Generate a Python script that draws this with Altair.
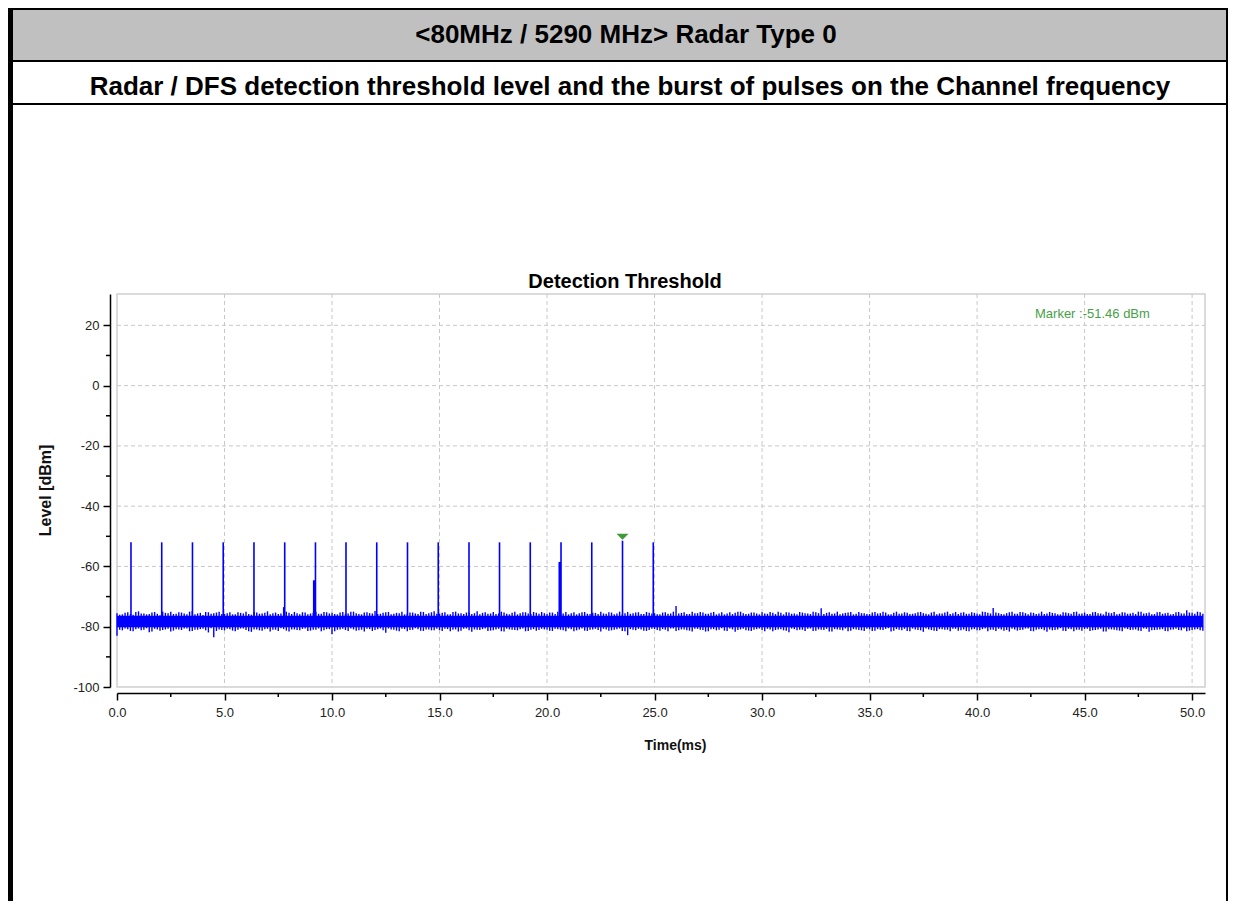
import altair as alt
import numpy as np
import pandas as pd

# ---------------- data ----------------
HEADER_1 = "<80MHz / 5290 MHz> Radar Type 0"
HEADER_2 = "Radar / DFS detection threshold level and the burst of pulses on the Channel frequency"
CHART_TITLE = "Detection Threshold"
MARKER_LABEL = "Marker :-51.46 dBm"
X_TITLE = "Time(ms)"
Y_TITLE = "Level [dBm]"

X_TICKS = [0.0, 5.0, 10.0, 15.0, 20.0, 25.0, 30.0, 35.0, 40.0, 45.0, 50.0]
X_MINOR = [2.5, 7.5, 12.5, 17.5, 22.5, 27.5, 32.5, 37.5, 42.5, 47.5]
Y_TICKS = [-100, -80, -60, -40, -20, 0, 20]
Y_MINOR = [-90, -70, -50, -30, -10, 10]
X_GRID = [5.0, 10.0, 15.0, 20.0, 25.0, 30.0, 35.0, 40.0, 45.0, 50.0]
Y_GRID = [-80, -60, -40, -20, 0, 20]
X_DOMAIN = [0.0, 50.6]
Y_DOMAIN = [-100.0, 30.4]

# radar pulses (time in ms, peak level in dBm)
PULSE_TIMES = [0.65, 2.08, 3.51, 4.94, 6.37, 7.80, 9.23, 10.65, 12.08,
               13.51, 14.94, 16.37, 17.79, 19.22, 20.65, 22.08, 23.51, 24.94]
PULSE_PEAKS = [-52.0, -52.0, -52.0, -52.0, -52.0, -52.0, -52.0, -52.0, -52.0,
               -52.0, -52.0, -52.0, -52.0, -52.0, -52.0, -52.0, -51.46, -52.0]
PULSE_BASE = -78.0
# partial (lower) pulses seen beside two of the pulses
EXTRA_TIMES = [9.17, 20.59]
EXTRA_PEAKS = [-64.6, -58.5]

MARKER_TIME = 23.51
MARKER_LEVEL = -51.46

# noise floor: solid core band plus upper / lower excursions every 0.25 ms
NOISE_STEP = 0.25
NOISE_CORE = (-80.2, -76.4)
NOISE_HI = [
    -75.5, -75.9, -75.2, -76.0, -74.9, -75.6, -75.8, -75.1, -76.2, -75.4,
    -75.0, -75.7, -75.3, -75.9, -74.8, -75.6, -76.1, -75.2, -75.5, -75.0,
    -75.7, -75.2, -75.9, -75.4, -75.0, -76.0, -75.3, -75.6, -74.9, -75.5,
    -75.8, -73.5, -75.4, -75.1, -75.9, -75.3, -75.6, -75.0, -75.7, -75.2,
    -75.4, -75.9, -75.1, -75.6, -75.0, -75.8, -75.3, -75.5, -74.8, -75.7,
    -75.2, -75.9, -75.4, -75.0, -75.6, -75.3, -75.8, -75.1, -75.5, -74.9,
    -75.6, -75.2, -75.9, -75.0, -75.5, -75.3, -75.8, -74.9, -75.4, -75.7,
    -75.1, -75.6, -75.3, -75.9, -75.0, -75.5, -75.2, -75.8, -75.4, -75.1,
    -75.7, -75.3, -75.0, -75.6, -75.9, -75.2, -75.5, -75.1, -75.8, -75.4,
    -75.0, -75.7, -75.3, -75.6, -75.9, -75.1, -75.5, -75.2, -75.8, -75.4,
    -75.5, -75.9, -75.2, -75.6, -73.1, -75.4, -75.8, -75.0, -75.5, -75.3,
    -75.7, -75.1, -75.6, -75.9, -75.2, -75.4, -75.0, -75.8, -75.3, -75.6,
    -75.2, -75.7, -75.4, -75.0, -75.9, -75.3, -75.6, -75.1, -75.5, -75.8,
    -75.2, -73.9, -75.4, -75.7, -75.0, -75.6, -75.3, -75.9, -75.1, -75.5,
    -75.8, -75.1, -75.5, -75.3, -75.9, -75.0, -75.6, -75.4, -75.7, -75.2,
    -75.5, -75.9, -75.0, -75.6, -75.3, -75.8, -75.1, -75.4, -75.7, -75.2,
    -75.6, -75.0, -75.4, -73.8, -75.5, -75.9, -75.2, -75.7, -75.1, -75.5,
    -75.3, -75.8, -75.0, -75.6, -75.4, -75.9, -75.2, -75.5, -75.1, -75.7,
    -75.3, -75.8, -75.1, -75.6, -75.0, -75.5, -75.9, -75.2, -75.7, -75.4,
    -75.0, -75.6, -75.3, -75.8, -75.1, -75.5, -75.9, -75.2, -75.6, -74.5,
    -75.4, -75.0, -75.7,
]
NOISE_LO = [
    -83.0, -81.2, -80.8, -81.5, -80.6, -81.0, -81.8, -80.7, -81.3, -80.9,
    -81.6, -80.8, -81.1, -80.6, -81.4, -81.0, -80.7, -81.9, -83.5, -80.9,
    -81.2, -80.8, -81.5, -80.6, -81.1, -81.7, -80.9, -81.3, -80.7, -81.0,
    -81.4, -80.8, -81.6, -80.9, -81.2, -80.6, -81.3, -81.0, -81.5, -80.8,
    -82.5, -81.0, -80.7, -81.4, -80.9, -81.2, -81.6, -80.8, -81.1, -80.6,
    -82.0, -80.9, -81.3, -80.7, -81.5, -81.0, -80.8, -81.4, -80.9, -81.2,
    -81.1, -80.7, -81.5, -80.9, -81.3, -80.6, -81.7, -81.0, -80.8, -81.4,
    -81.2, -80.7, -81.6, -80.9, -81.1, -80.8, -81.5, -81.0, -81.3, -80.7,
    -81.0, -81.4, -80.8, -81.2, -80.6, -81.5, -80.9, -81.3, -81.0, -80.7,
    -81.6, -80.9, -81.2, -80.8, -81.4, -82.8, -81.0, -80.7, -81.3, -81.1,
    -80.8, -81.3, -81.0, -80.6, -81.4, -80.9, -81.2, -81.6, -80.7, -81.1,
    -81.5, -80.8, -81.0, -81.3, -80.6, -81.7, -80.9, -81.2, -81.4, -80.8,
    -81.1, -80.7, -81.5, -80.9, -81.2, -81.8, -80.8, -81.0, -81.4, -80.6,
    -81.3, -81.0, -80.7, -81.6, -80.9, -81.2, -81.5, -80.8, -81.1, -81.4,
    -80.9, -81.3, -81.0, -80.7, -81.6, -80.8, -81.2, -81.4, -80.6, -81.1,
    -81.7, -80.9, -81.3, -80.8, -81.0, -81.5, -80.7, -81.2, -81.4, -80.9,
    -81.2, -80.8, -81.5, -81.0, -80.7, -81.3, -81.6, -80.9, -81.1, -80.6,
    -81.4, -81.0, -80.8, -81.7, -81.2, -80.9, -81.3, -80.7, -81.5, -81.0,
    -80.8, -81.4, -81.1, -80.7, -81.6, -80.9, -81.2, -81.5, -80.8, -81.0,
    -81.3, -80.6, -81.7, -81.1, -80.9, -81.4, -81.0, -80.7, -81.2, -81.5,
    -81.1, -80.8, -81.3,
]
# second set of excursions, half a step (0.125 ms) later
NOISE_HI2 = [
    -76.0, -75.4, -75.8, -75.1, -75.6, -75.9, -75.3, -75.7, -75.0, -75.5,
    -75.8, -75.2, -75.6, -75.0, -75.9, -75.4, -75.1, -75.7, -75.3, -75.8,
    -75.5, -75.9, -75.2, -75.6, -75.8, -75.1, -75.7, -75.4, -75.9, -75.3,
    -75.6, -75.0, -75.8, -75.5, -75.2, -75.9, -75.4, -75.7, -75.1, -75.6,
    -75.8, -75.3, -75.7, -75.0, -75.5, -75.9, -75.2, -75.6, -75.8, -75.4,
    -75.1, -75.7, -75.5, -75.9, -75.3, -75.6, -75.0, -75.8, -75.2, -75.7,
    -75.4, -75.9, -75.1, -75.6, -75.8, -75.3, -75.5, -75.9, -75.2, -75.6,
    -75.8, -75.0, -75.7, -75.4, -75.9, -75.2, -75.6, -75.1, -75.7, -75.5,
    -75.3, -75.8, -75.6, -75.1, -75.5, -75.9, -75.2, -75.7, -75.4, -75.8,
    -75.6, -75.2, -75.9, -75.0, -75.5, -75.7, -75.3, -75.8, -75.1, -75.6,
    -75.9, -75.3, -75.7, -75.0, -75.6, -75.2, -75.8, -75.5, -75.1, -75.7,
    -75.4, -75.9, -75.2, -75.6, -75.8, -75.0, -75.5, -75.7, -75.3, -75.9,
    -75.6, -75.1, -75.8, -75.4, -75.2, -75.7, -75.9, -75.3, -75.6, -75.0,
    -75.5, -75.8, -75.2, -75.6, -75.9, -75.4, -75.1, -75.7, -75.5, -75.8,
    -75.3, -75.6, -75.0, -75.9, -75.4, -75.7, -75.2, -75.8, -75.5, -75.1,
    -75.7, -75.3, -75.9, -75.6, -75.0, -75.5, -75.8, -75.2, -75.7, -75.4,
    -75.9, -75.1, -75.6, -75.3, -75.8, -75.5, -75.0, -75.7, -75.2, -75.9,
    -75.4, -75.6, -75.8, -75.1, -75.5, -75.9, -75.3, -75.7, -75.0, -75.6,
    -75.8, -75.2, -75.5, -75.9, -75.4, -75.1, -75.7, -75.3, -75.6, -75.8,
    -75.0, -75.5, -75.9, -75.2, -75.7, -75.4, -75.8, -75.1, -75.6, -75.3,
    -75.7, -75.2, -75.8,
]
NOISE_LO2 = [
    -81.0, -80.6, -81.4, -80.8, -81.2, -80.5, -81.6, -80.9, -81.1, -80.7,
    -81.3, -80.9, -80.6, -81.5, -81.0, -80.8, -81.2, -80.5, -81.4, -81.1,
    -80.7, -81.3, -81.0, -80.6, -81.5, -80.9, -81.2, -80.8, -81.6, -81.0,
    -80.5, -81.3, -80.9, -81.1, -80.7, -81.4, -81.0, -80.6, -81.2, -80.8,
    -81.5, -80.9, -81.1, -80.6, -81.3, -81.0, -80.7, -81.4, -80.8, -81.2,
    -80.6, -81.0, -81.5, -80.8, -81.1, -80.5, -81.3, -80.9, -81.2, -80.7,
    -81.4, -80.8, -81.0, -81.6, -80.7, -81.2, -80.9, -81.1, -80.6, -81.3,
    -80.9, -81.5, -80.7, -81.0, -81.2, -80.6, -81.4, -80.8, -81.1, -80.9,
    -81.3, -80.7, -81.0, -81.5, -80.8, -81.2, -80.6, -81.4, -80.9, -81.1,
    -80.7, -81.3, -81.0, -80.6, -81.5, -80.8, -81.2, -80.9, -81.4, -80.7,
    -81.1, -80.8, -81.5, -80.6, -81.2, -80.9, -81.3, -80.7, -81.0, -81.6,
    -80.8, -81.2, -80.5, -81.4, -80.9, -81.1, -80.7, -81.3, -81.0, -80.6,
    -81.5, -80.9, -81.1, -80.8, -81.3, -80.6, -81.2, -81.0, -80.7, -81.4,
    -80.9, -81.1, -81.6, -80.8, -81.0, -80.6, -81.3, -80.9, -81.2, -80.7,
    -81.4, -80.8, -81.1, -80.5, -81.3, -81.0, -80.7, -81.5, -80.9, -81.2,
    -80.6, -81.1, -81.4, -80.8, -81.0, -80.7, -81.3, -80.9, -81.5, -80.8,
    -81.2, -80.6, -81.0, -81.4, -80.9, -81.1, -80.7, -81.3, -81.0, -80.6,
    -81.5, -80.8, -81.2, -80.9, -81.1, -80.5, -81.4, -80.8, -81.0, -81.3,
    -80.7, -81.2, -80.9, -81.6, -80.8, -81.0, -81.3, -80.6, -81.1, -80.9,
    -81.4, -80.7, -81.2, -81.0, -80.8, -81.5, -80.9, -81.1, -80.6, -81.3,
    -80.9, -81.2, -80.7,
]

# ---------------- layout / style ----------------
W, H = 1088, 393
PAD = {"left": 109, "top": 286, "right": 23, "bottom": 214}
BLUE = "#0000ff"
GREEN = "#3f9b35"
GRID = "#c8c8c8"
FONT = "Liberation Sans"

noise = pd.DataFrame({"x": np.arange(len(NOISE_HI)) * NOISE_STEP,
                      "hi": NOISE_HI, "lo": NOISE_LO,
                      "c_lo": NOISE_CORE[0], "c_hi": NOISE_CORE[1]})
noise2 = pd.DataFrame({"x": np.arange(len(NOISE_HI2)) * NOISE_STEP + NOISE_STEP / 2,
                       "hi": NOISE_HI2, "lo": NOISE_LO2})
noise2 = noise2[noise2["x"] <= X_DOMAIN[1]]
pulses = pd.DataFrame({"x": PULSE_TIMES, "y": PULSE_PEAKS, "base": PULSE_BASE})
extras = pd.DataFrame({"x": EXTRA_TIMES, "y": EXTRA_PEAKS, "base": PULSE_BASE})
marker = pd.DataFrame({"x": [MARKER_TIME], "y": [MARKER_LEVEL]})
one = pd.DataFrame({"d": [0]})

xs = alt.Scale(domain=X_DOMAIN, nice=False, zero=False)
ys = alt.Scale(domain=Y_DOMAIN, nice=False, zero=False)

X_AXIS = alt.Axis(values=X_TICKS, format=".1f", grid=False, offset=6,
                  tickSize=7, tickWidth=1.5, tickColor="black",
                  domainColor="black", domainWidth=1.5,
                  labelFont=FONT, labelFontSize=13, labelColor="#222222",
                  labelPadding=6, labelFlush=False,
                  title=X_TITLE, titleFont=FONT, titleFontSize=14,
                  titleFontWeight="bold", titleColor="#111111",
                  titleX=558, titleY=52, titleBaseline="middle", titleAlign="center")
Y_AXIS = alt.Axis(values=Y_TICKS, labelExpr="'' + datum.value", grid=False, offset=7,
                  tickSize=7, tickWidth=1.5, tickColor="black",
                  domainColor="black", domainWidth=1.5,
                  labelFont=FONT, labelFontSize=13, labelColor="#222222",
                  labelPadding=4, labelFlush=False,
                  title=Y_TITLE, titleFont=FONT, titleFontSize=16,
                  titleFontWeight="bold", titleColor="#111111",
                  titleX=-65, titleY=196, titleAngle=270,
                  titleBaseline="middle", titleAlign="center")


def X(field):
    return alt.X(f"{field}:Q", scale=xs, axis=X_AXIS)


def Y(field):
    return alt.Y(f"{field}:Q", scale=ys, axis=Y_AXIS)


def box(x, x2, y, y2, color):
    return alt.Chart(one).mark_rect(color=color).encode(
        x=alt.value(x), x2=alt.value(x2), y=alt.value(y), y2=alt.value(y2))


# table decorations of the document page
header_fill = box(-104, 1109, -284, -234, "#c0c0c0")
top_line = box(-109, 1111, -286, -284, "black")
left_line = box(-109, -104, -286, 607, "black")
right_line = box(1109, 1111, -286, 607, "black")
row_line1 = box(-104, 1109, -234, -232, "black")
row_line2 = box(-104, 1109, -191, -189, "black")


def label(text, x, y, size, weight="bold", color="black", align="center"):
    return alt.Chart(one).mark_text(font=FONT, fontSize=size, fontWeight=weight,
                                    color=color, align=align, baseline="middle").encode(
        x=alt.value(x), y=alt.value(y), text=alt.value(text))


h1 = label(HEADER_1, 509, -259, 26)
h2 = label(HEADER_2, 513, -207, 26)
title = label(CHART_TITLE, 508, -12, 20)
mlabel = label(MARKER_LABEL, 918, 20, 13, weight="normal", color="#48a048", align="left")

# grid lines
gx = alt.Chart(pd.DataFrame({"x": X_GRID})).mark_rule(
    color=GRID, strokeDash=[4, 3], strokeWidth=1).encode(
    x=X("x"), y=alt.value(0), y2=alt.value(H))
gy = alt.Chart(pd.DataFrame({"y": Y_GRID})).mark_rule(
    color=GRID, strokeDash=[4, 3], strokeWidth=1).encode(
    y=Y("y"), x=alt.value(0), x2=alt.value(W))

# minor ticks
mx = alt.Chart(pd.DataFrame({"x": X_MINOR})).mark_rule(
    color="black", strokeWidth=1.5).encode(
    x=X("x"), y=alt.value(H + 6), y2=alt.value(H + 10))
my = alt.Chart(pd.DataFrame({"y": Y_MINOR})).mark_rule(
    color="black", strokeWidth=1.5).encode(
    y=Y("y"), x=alt.value(-7), x2=alt.value(-11))

# noise
core = alt.Chart(noise).mark_area(color=BLUE, opacity=1).encode(
    x=X("x"), y=Y("c_lo"), y2="c_hi")
spikes = alt.Chart(noise).mark_rule(color=BLUE, strokeWidth=1.4).encode(
    x=X("x"), y=Y("lo"), y2="hi")
spikes2 = alt.Chart(noise2).mark_rule(color=BLUE, strokeWidth=1.4).encode(
    x=X("x"), y=Y("lo"), y2="hi")

extra = alt.Chart(extras).mark_rule(color=BLUE, strokeWidth=2.5).encode(
    x=X("x"), y=Y("base"), y2="y")
pulse = alt.Chart(pulses).mark_rule(color=BLUE, strokeWidth=1.6).encode(
    x=X("x"), y=Y("base"), y2="y")
mark = alt.Chart(marker).mark_point(
    shape="M-1,-0.5L1,-0.5L0,0.5Z", size=144, filled=True, opacity=1,
    color=GREEN, yOffset=-4).encode(x=X("x"), y=Y("y"))

chart = alt.layer(
    header_fill, top_line, left_line, right_line, row_line1, row_line2,
    h1, h2, title, gx, gy, mx, my, core, spikes, spikes2, extra, pulse, mark, mlabel,
).properties(
    width=W, height=H, padding=PAD,
    autosize=alt.AutoSizeParams(type="none"),
    background="white",
).configure_view(stroke="#cfcfcf", strokeWidth=1.5)

chart.save("out.html", embed_options={"renderer": "svg", "actions": False})
